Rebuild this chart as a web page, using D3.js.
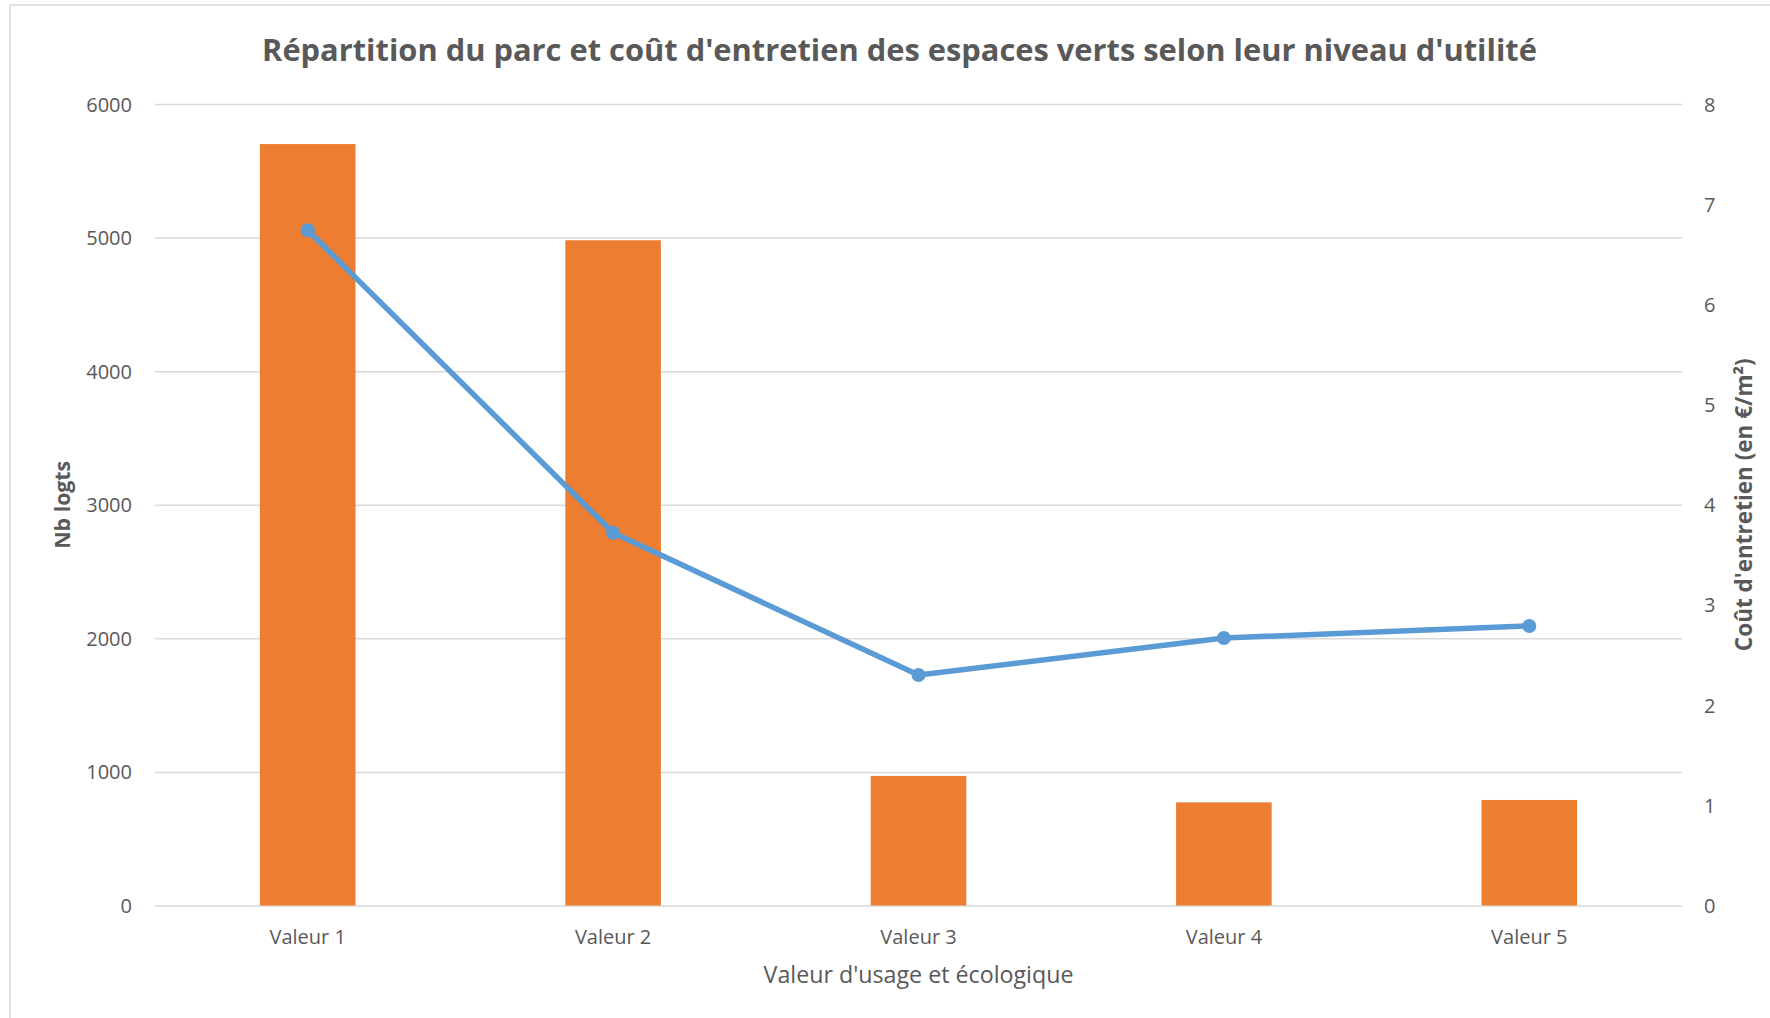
<!DOCTYPE html>
<html>
<head>
<meta charset="utf-8">
<script src="https://cdn.jsdelivr.net/npm/d3@7"></script>
<style>
  body { margin: 0; background: #ffffff; }
  .chart-text { font-family: "Open Sans", sans-serif; fill: #595959; }
</style>
</head>
<body>
<div id="chart"></div>
<script>
// chart data
const categories = ["Valeur 1", "Valeur 2", "Valeur 3", "Valeur 4", "Valeur 5"];
const nbLogements = [5700, 4980, 970, 772, 790];
const coutEntretien = [6.74, 3.72, 2.30, 2.67, 2.79];
const leftTicks = [0, 1000, 2000, 3000, 4000, 5000, 6000];
const rightTicks = [0, 1, 2, 3, 4, 5, 6, 7, 8];

const titleText = "Répartition du parc et coût d'entretien des espaces verts selon leur niveau d'utilité";
const xTitle = "Valeur d'usage et écologique";
const yLeftTitle = "Nb logts";
const yRightTitle = "Coût d'entretien (en €/m²)";

const width = 1770;
const height = 1018;
const margin = { top: 104, right: 88, bottom: 112.5, left: 155 };

const orange = "#ED7D31";
const blue = "#5B9BD5";
const gridColor = "#D9D9D9";

// shrink / grow a text node until it has the wanted length
function fitText(sel, target) {
  const size = parseFloat(sel.style("font-size"));
  const len = sel.node().getComputedTextLength();
  sel.style("font-size", (size * target) / len + "px");
}

const svg = d3
  .select("#chart")
  .append("svg")
  .attr("width", width)
  .attr("height", height);

// chart area border (light frame)
svg
  .append("rect")
  .attr("x", 10)
  .attr("y", 5)
  .attr("width", width + 20)
  .attr("height", height + 20)
  .attr("fill", "#ffffff")
  .attr("stroke", gridColor)
  .attr("stroke-width", 1.5);

const plotW = width - margin.left - margin.right;
const plotH = height - margin.top - margin.bottom;

const g = svg
  .append("g")
  .attr("transform", `translate(${margin.left}, ${margin.top})`);

// scales
const x = d3
  .scaleBand()
  .domain(categories)
  .range([0, plotW])
  .paddingInner(0.687)
  .paddingOuter(0.3435);

const yLeft = d3.scaleLinear().domain([0, 6000]).range([plotH, 0]);
const yRight = d3.scaleLinear().domain([0, 8]).range([plotH, 0]);

// gridlines
g.append("g")
  .call(
    d3.axisLeft(yLeft).tickValues(leftTicks).tickSize(-plotW).tickFormat("")
  )
  .call(a => a.select(".domain").remove())
  .call(a =>
    a.selectAll("line").attr("stroke", gridColor).attr("stroke-width", 1.5)
  );

// left axis labels
g.append("g")
  .call(
    d3
      .axisLeft(yLeft)
      .tickValues(leftTicks)
      .tickFormat(d3.format("d"))
      .tickSize(0)
      .tickPadding(23)
  )
  .call(a => a.select(".domain").remove())
  .call(a =>
    a
      .selectAll("text")
      .attr("class", "chart-text")
      .style("font-size", "20px")
      .attr("dy", "0.35em")
  );

// right axis labels
g.append("g")
  .attr("transform", `translate(${plotW}, 0)`)
  .call(d3.axisRight(yRight).tickValues(rightTicks).tickSize(0).tickPadding(22))
  .call(a => a.select(".domain").remove())
  .call(a =>
    a
      .selectAll("text")
      .attr("class", "chart-text")
      .style("font-size", "20px")
      .attr("dy", "0.35em")
  );

// bottom axis labels
g.append("g")
  .attr("transform", `translate(0, ${plotH})`)
  .call(d3.axisBottom(x).tickSize(0).tickPadding(24))
  .call(a => a.select(".domain").remove())
  .call(a =>
    a
      .selectAll("text")
      .attr("class", "chart-text")
      .style("font-size", "20px")
      .attr("dy", "0.71em")
  );

// bars
g.selectAll(".bar")
  .data(nbLogements)
  .enter()
  .append("rect")
  .attr("class", "bar")
  .attr("x", (d, i) => x(categories[i]))
  .attr("y", d => yLeft(d))
  .attr("width", x.bandwidth())
  .attr("height", d => plotH - yLeft(d))
  .attr("fill", orange);

// cost line
const line = d3
  .line()
  .x((d, i) => x(categories[i]) + x.bandwidth() / 2)
  .y(d => yRight(d));

g.append("path")
  .datum(coutEntretien)
  .attr("d", line)
  .attr("fill", "none")
  .attr("stroke", blue)
  .attr("stroke-width", 5.5)
  .attr("stroke-linejoin", "round");

g.selectAll(".dot")
  .data(coutEntretien)
  .enter()
  .append("circle")
  .attr("class", "dot")
  .attr("cx", (d, i) => x(categories[i]) + x.bandwidth() / 2)
  .attr("cy", d => yRight(d))
  .attr("r", 7)
  .attr("fill", blue);

// title
const title = svg
  .append("text")
  .attr("class", "chart-text")
  .attr("x", 899.5)
  .attr("y", 61)
  .style("text-anchor", "middle")
  .style("font-weight", "bold")
  .style("font-size", "30px")
  .text(titleText);
fitText(title, 1275);

// axis titles
const xt = svg
  .append("text")
  .attr("class", "chart-text")
  .attr("x", margin.left + plotW / 2)
  .attr("y", 983)
  .style("text-anchor", "middle")
  .style("font-size", "21px")
  .text(xTitle);
fitText(xt, 310);

const ylt = svg
  .append("g")
  .attr("transform", `translate(70, ${margin.top + plotH / 2})`)
  .append("text")
  .attr("class", "chart-text")
  .attr("transform", "rotate(-90)")
  .style("text-anchor", "middle")
  .style("font-weight", "bold")
  .style("font-size", "22px")
  .text(yLeftTitle);
fitText(ylt, 88);

const yrt = svg
  .append("g")
  .attr("transform", `translate(1752, ${margin.top + plotH / 2})`)
  .append("text")
  .attr("class", "chart-text")
  .attr("transform", "rotate(-90)")
  .style("text-anchor", "middle")
  .style("font-weight", "bold")
  .style("font-size", "22px")
  .text(yRightTitle);
fitText(yrt, 293);
</script>
</body>
</html>
